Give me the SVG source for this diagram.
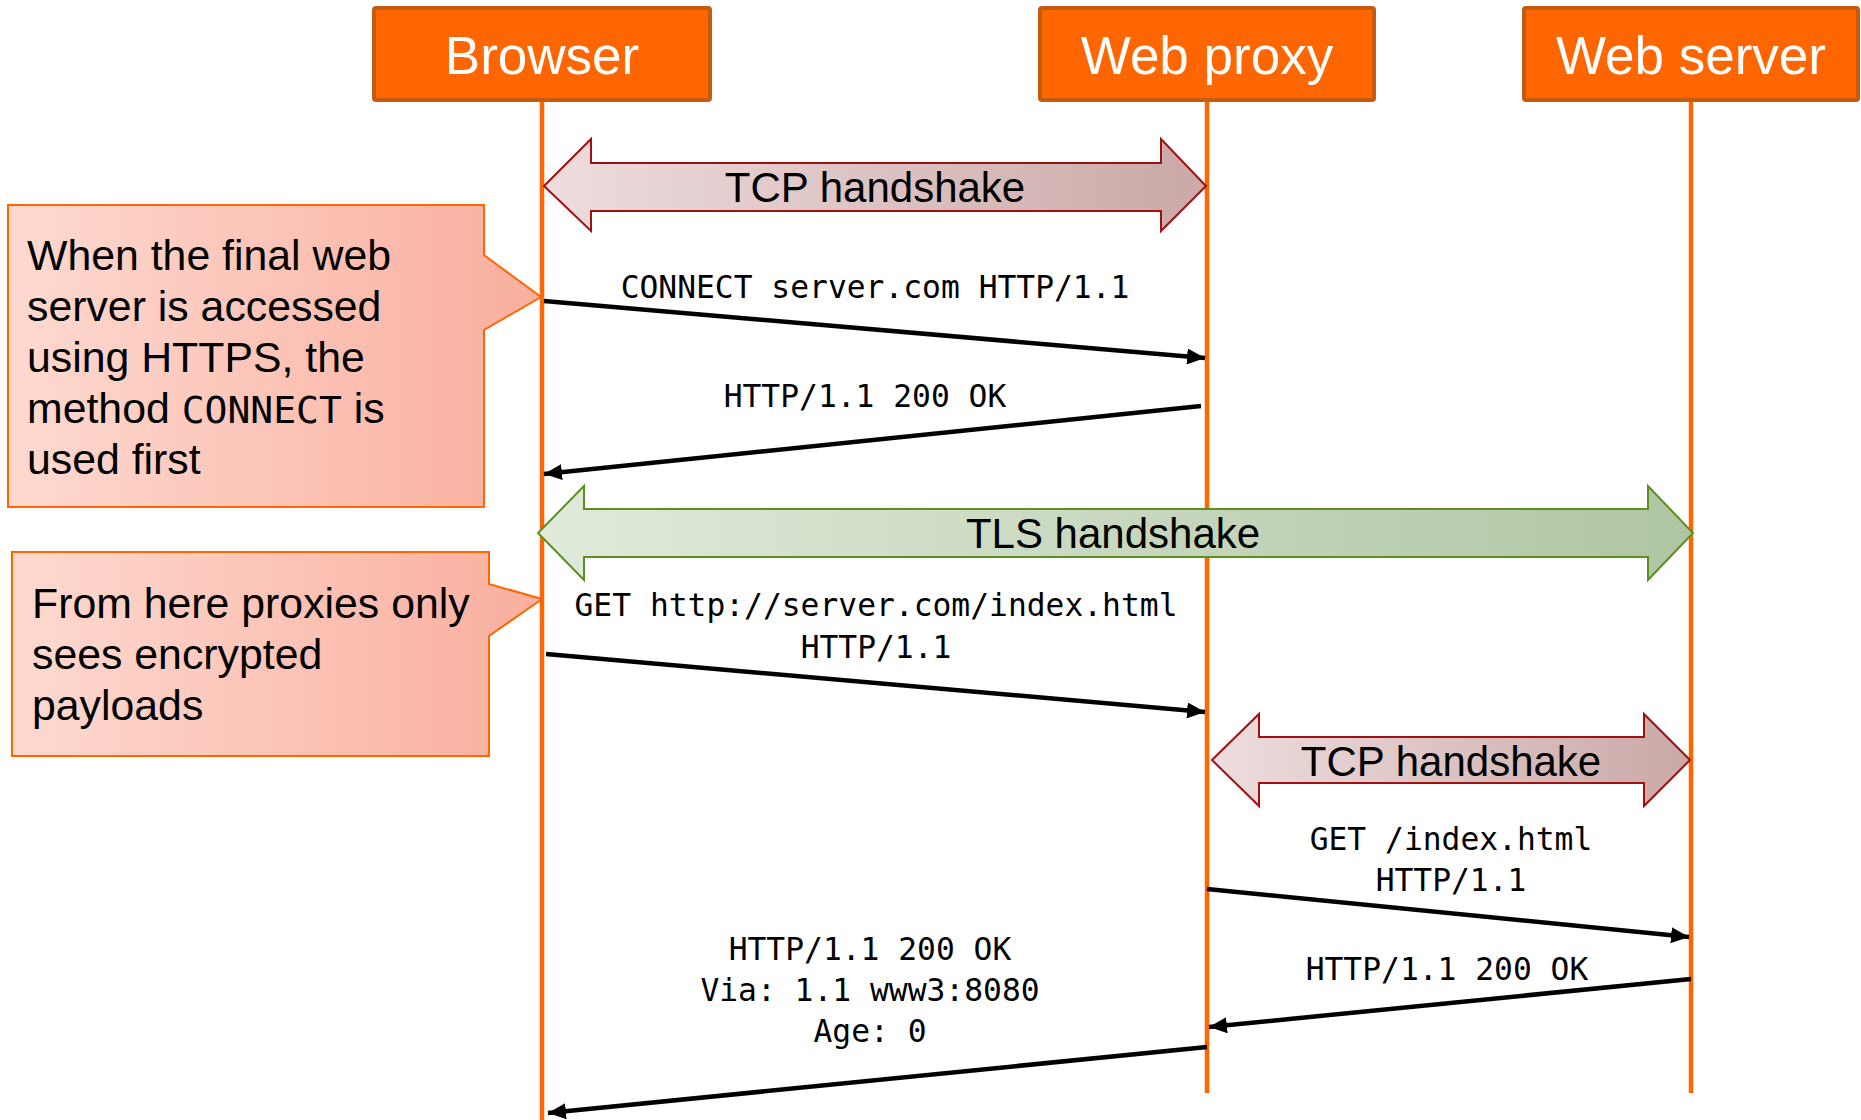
<svg xmlns="http://www.w3.org/2000/svg" width="1861" height="1120" viewBox="0 0 1861 1120">
<style>
.hdr{fill:#FF6600;stroke:#C55A11;stroke-width:4}
.hdrt{font-family:"Liberation Sans",Arial,sans-serif;font-size:53px;fill:#FFFFFF;text-anchor:middle}
.life{stroke:#FF6600;stroke-width:4.5;fill:none}
.tcp{fill:url(#gTcp);stroke:#A01010;stroke-width:2}
.tls{fill:url(#gTls);stroke:#5A9020;stroke-width:2}
.big{font-family:"Liberation Sans",Arial,sans-serif;font-size:42px;fill:#000;text-anchor:middle}
.note{fill:url(#gNote);stroke:#FF6600;stroke-width:2}
.nt{font-family:"Liberation Sans",Arial,sans-serif;font-size:42.8px;fill:#000}
.mono{font-family:"DejaVu Sans Mono","Liberation Mono",monospace}
.lbl{font-family:"DejaVu Sans Mono","Liberation Mono",monospace;font-size:31.3px;fill:#000;text-anchor:middle}
.msg{stroke:#000;stroke-width:4.5;fill:none;marker-end:url(#ah)}
</style>
<defs>
<linearGradient id="gTcp" x1="0" y1="0" x2="1" y2="0">
<stop offset="0" stop-color="#EEDCDE"/>
<stop offset="1" stop-color="#CAA9A7"/>
</linearGradient>
<linearGradient id="gTls" x1="0" y1="0" x2="1" y2="0">
<stop offset="0" stop-color="#E0EADB"/>
<stop offset="1" stop-color="#B0C5A2"/>
</linearGradient>
<linearGradient id="gNote" x1="0" y1="0" x2="1" y2="0">
<stop offset="0" stop-color="#FED9D0"/>
<stop offset="1" stop-color="#F9AF9E"/>
</linearGradient>
<marker id="ah" markerUnits="userSpaceOnUse" markerWidth="20" markerHeight="16" refX="18" refY="8" orient="auto">
<path d="M0,0 L18,8 L0,16 Z" fill="#000"/>
</marker>
</defs>

<g id="lifelines">
<line class="life" x1="542" y1="101" x2="542" y2="1120"/>
<line class="life" x1="1207" y1="101" x2="1207" y2="1093"/>
<line class="life" x1="1691" y1="101" x2="1691" y2="1093"/>
</g>

<g id="browser">
<rect class="hdr" x="374" y="8" width="336" height="92" rx="2"/>
<text class="hdrt" x="542" y="74">Browser</text>
</g>
<g id="webproxy">
<rect class="hdr" x="1040" y="8" width="334" height="92" rx="2"/>
<text class="hdrt" x="1207" y="74">Web proxy</text>
</g>
<g id="webserver">
<rect class="hdr" x="1524" y="8" width="334" height="92" rx="2"/>
<text class="hdrt" x="1691" y="74">Web server</text>
</g>

<g id="tcp1">
<path class="tcp" d="M544,186 L591,139 L591,163 L1161,163 L1161,139 L1206,186 L1161,231 L1161,211 L591,211 L591,231 Z"/>
<text class="big" x="875" y="202">TCP handshake</text>
</g>

<g id="tls">
<path class="tls" d="M538,533 L584,486 L584,509 L1648,509 L1648,486 L1693,533 L1648,580 L1648,557 L584,557 L584,580 Z"/>
<text class="big" x="1113" y="548">TLS handshake</text>
</g>

<g id="tcp2">
<path class="tcp" d="M1212,760 L1259,714 L1259,737 L1644,737 L1644,714 L1690,760 L1644,806 L1644,783 L1259,783 L1259,806 Z"/>
<text class="big" x="1451" y="776">TCP handshake</text>
</g>

<g id="note1">
<path class="note" d="M8,205 L484,205 L484,255 L541,297 L484,330 L484,507 L8,507 Z"/>
<text class="nt" x="27" y="270">When the final web</text>
<text class="nt" x="27" y="321">server is accessed</text>
<text class="nt" x="27" y="372">using HTTPS, the</text>
<text class="nt" x="27" y="423">method <tspan class="mono" font-size="38">CONNECT</tspan> is</text>
<text class="nt" x="27" y="474">used first</text>
</g>

<g id="note2">
<path class="note" d="M12,552 L489,552 L489,584 L542,599 L489,636 L489,756 L12,756 Z"/>
<text class="nt" x="32" y="618">From here proxies only</text>
<text class="nt" x="32" y="669">sees encrypted</text>
<text class="nt" x="32" y="720">payloads</text>
</g>

<g id="connectors">
<line class="msg" x1="544" y1="301" x2="1205" y2="358"/>
<text class="lbl" x="875" y="298">CONNECT server.com HTTP/1.1</text>

<line class="msg" x1="1201" y1="406" x2="544" y2="474"/>
<text class="lbl" x="865" y="407">HTTP/1.1 200 OK</text>

<line class="msg" x1="546" y1="654" x2="1205" y2="712"/>
<text class="lbl" x="876" y="616">GET http://server.com/index.html</text>
<text class="lbl" x="876" y="658">HTTP/1.1</text>

<line class="msg" x1="1207" y1="889" x2="1689" y2="937"/>
<text class="lbl" x="1451" y="850">GET /index.html</text>
<text class="lbl" x="1451" y="891">HTTP/1.1</text>

<line class="msg" x1="1691" y1="979" x2="1209" y2="1027"/>
<text class="lbl" x="1447" y="980">HTTP/1.1 200 OK</text>

<line class="msg" x1="1207" y1="1047" x2="548" y2="1113"/>
<text class="lbl" x="870" y="960">HTTP/1.1 200 OK</text>
<text class="lbl" x="870" y="1001">Via: 1.1 www3:8080</text>
<text class="lbl" x="870" y="1042">Age: 0</text>
</g>
</svg>
